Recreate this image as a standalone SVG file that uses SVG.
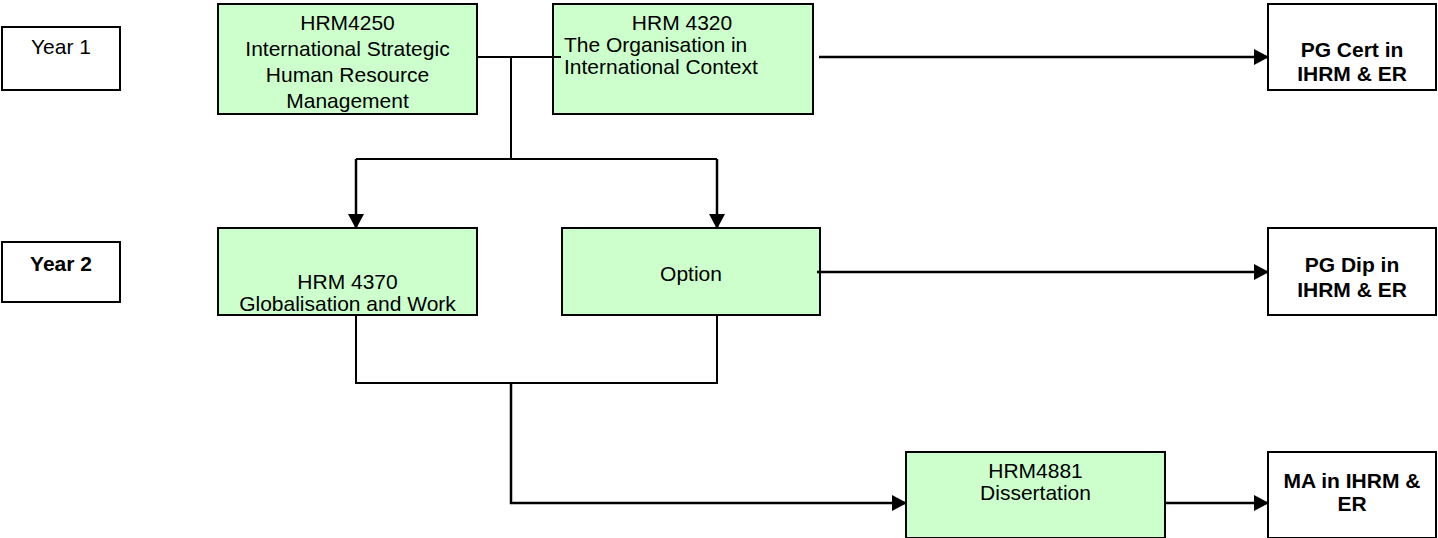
<svg xmlns="http://www.w3.org/2000/svg" width="1438" height="538" viewBox="0 0 1438 538">
  <style>
    .box { fill: #FFFFFF; stroke: #000000; stroke-width: 2; }
    .mod { fill: #CCFFCC; stroke: #000000; stroke-width: 2; }
    .t { font-family: "Liberation Sans", Arial, sans-serif; font-size: 21px; fill: #000000; text-anchor: middle; }
    .tl { font-family: "Liberation Sans", Arial, sans-serif; font-size: 21px; fill: #000000; }
    .b { font-family: "Liberation Sans", Arial, sans-serif; font-size: 21px; font-weight: bold; fill: #000000; text-anchor: middle; }
    .line { fill: none; stroke: #000000; stroke-width: 2; }
    .arrow { fill: none; stroke: #000000; stroke-width: 2.5; marker-end: url(#head); }
  </style>
  <defs>
    <marker id="head" markerUnits="userSpaceOnUse" markerWidth="15" markerHeight="16" refX="14" refY="8" orient="auto">
      <path d="M0,0 L15,8 L0,16 z" fill="#000000"/>
    </marker>
    <clipPath id="clip4250">
      <rect x="218" y="4" width="259" height="110"/>
    </clipPath>
  </defs>

  <g id="year1">
    <rect class="box" x="2" y="27" width="118" height="63"/>
    <text class="t" x="61" y="54">Year 1</text>
  </g>

  <g id="year2">
    <rect class="box" x="2" y="242" width="118" height="60"/>
    <text class="b" x="61" y="271">Year 2</text>
  </g>

  <g id="hrm4250">
    <rect class="mod" x="218" y="4" width="259" height="110"/>
    <g clip-path="url(#clip4250)">
      <text class="t" x="347.5" y="30">HRM4250</text>
      <text class="t" x="347.5" y="56">International Strategic</text>
      <text class="t" x="347.5" y="82">Human Resource</text>
      <text class="t" x="347.5" y="108">Management</text>
    </g>
  </g>

  <g id="hrm4320">
    <rect class="mod" x="553" y="4" width="260" height="110"/>
    <text class="t" x="682" y="30">HRM 4320</text>
    <text class="tl" x="564" y="52">The Organisation in</text>
    <text class="tl" x="564" y="74">International Context</text>
  </g>

  <g id="pg-cert">
    <rect class="box" x="1268" y="4" width="168" height="86"/>
    <text class="b" x="1352" y="57">PG Cert in</text>
    <text class="b" x="1352" y="81">IHRM &amp; ER</text>
  </g>

  <g id="hrm4370">
    <rect class="mod" x="218" y="228" width="259" height="87"/>
    <text class="t" x="347.5" y="289">HRM 4370</text>
    <text class="t" x="347.5" y="311">Globalisation and Work</text>
  </g>

  <g id="option">
    <rect class="mod" x="562" y="228" width="258" height="87"/>
    <text class="t" x="691" y="281">Option</text>
  </g>

  <g id="pg-dip">
    <rect class="box" x="1268" y="228" width="168" height="87"/>
    <text class="b" x="1352" y="272">PG Dip in</text>
    <text class="b" x="1352" y="297">IHRM &amp; ER</text>
  </g>

  <g id="hrm4881">
    <rect class="mod" x="906" y="452" width="259" height="86"/>
    <text class="t" x="1035.5" y="478">HRM4881</text>
    <text class="t" x="1035.5" y="500">Dissertation</text>
  </g>

  <g id="ma">
    <rect class="box" x="1268" y="452" width="168" height="86"/>
    <text class="b" x="1352" y="488">MA in IHRM &amp;</text>
    <text class="b" x="1352" y="511">ER</text>
  </g>

  <g id="connectors">
    <!-- year 1 modules joined, then split to year 2 -->
    <path class="line" d="M477,57 H561"/>
    <path class="line" d="M511,57 V159"/>
    <path class="line" d="M356,159 H717"/>
    <path class="arrow" d="M356,159 V228"/>
    <path class="arrow" d="M717,159 V228"/>
    <!-- exit awards -->
    <path class="arrow" d="M819,57 H1268"/>
    <path class="arrow" d="M817,272 H1268"/>
    <!-- year 2 modules joined, leading to dissertation -->
    <path class="line" d="M356,315 V383 H717 V315"/>
    <path class="arrow" d="M511,383 V503 H906"/>
    <path class="arrow" d="M1165,503 H1268"/>
  </g>
</svg>
